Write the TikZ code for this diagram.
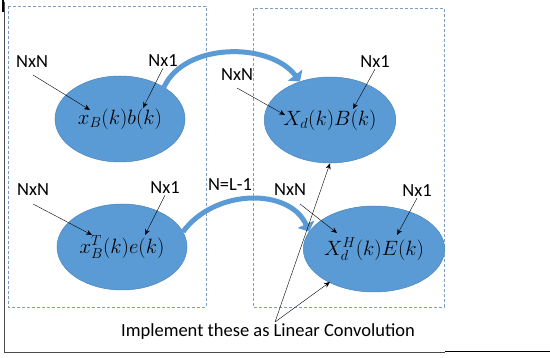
\documentclass[tikz,border=0pt]{standalone}
\usepackage{fontspec}
\setmainfont{Carlito}
\usetikzlibrary{shapes.geometric,arrows.meta}
\definecolor{blobblue}{HTML}{5B9BD5}
\definecolor{blobedge}{HTML}{4A84BC}
\definecolor{boxblue}{HTML}{7C9CC4}
\begin{document}
\begin{tikzpicture}[x=1pt,y=-1pt,line width=.5pt,
    blob/.style={ellipse,fill=blobblue,draw=blobedge,minimum width=130pt,minimum height=86pt,inner sep=0pt,font=\fontsize{21}{24}\selectfont},
    lbl/.style={inner sep=1pt,font=\fontsize{18.5}{21}\selectfont},
    pointer/.style={-{Stealth[length=6pt,width=5pt]},line width=.4pt},
    bigarrow/.style={draw=blobblue,line width=5pt,-{Triangle[length=8pt,width=18pt]}},
    dashbox/.style={draw=boxblue,dash pattern=on 3pt off 2pt,line width=.8pt}]
      \useasboundingbox (0,0) rectangle (550,358);

      % outer frame
      \draw[black!70,line width=.8pt] (4,2) -- (4,352) -- (445,352);
      \draw[line width=1.6pt] (445,351.5) -- (550,351.5);
      \draw[line width=2pt] (3,0) -- (3,12);

      % groups
      \draw[dashbox] (8,6) rectangle (206,307);
      \draw[dashbox] (253,8) rectangle (444,307);

      % ellipses
      \node[blob] (xb) at (120,119) {$x_B(k)b(k)$};
      \node[blob] (XB) at (330,120) {$X_d(k)B(k)$};
      \node[blob] (xe) at (122,247) {$x_B^T(k)e(k)$};
      \node[blob] (XE) at (374,249) {$X_d^H(k)E(k)$};

      % size labels
      \node[lbl] (n1) at (32,62) {NxN};
      \node[lbl] (m1) at (163,61) {Nx1};
      \node[lbl] (n2) at (237,75) {NxN};
      \node[lbl] (m2) at (375,62) {Nx1};
      \node[lbl] (n3) at (33,190) {NxN};
      \node[lbl] (m3) at (165,188) {Nx1};
      \node[lbl] (n4) at (290,190) {NxN};
      \node[lbl] (m4) at (417,191) {Nx1};
      \node[lbl] (ratio) at (230,185) {N=L-1};

      \coordinate (n1e) at (90,110);
      \coordinate (m1e) at (143,108);
      \coordinate (n2e) at (285,115);
      \coordinate (m2e) at (353,109);
      \coordinate (n3e) at (92,235);
      \coordinate (m3e) at (145,235);
      \coordinate (n4e) at (337,233);
      \coordinate (m4e) at (397,235);

      \draw[pointer] (33,75) -- (n1e);
      \draw[pointer] (m1.south) -- (m1e);
      \draw[pointer] (237,88) -- (n2e);
      \draw[pointer] (m2.south) -- (m2e);
      \draw[pointer] (33,204) -- (n3e);
      \draw[pointer] (m3.south) -- (m3e);
      \draw[pointer] (300,204) -- (n4e);
      \draw[pointer] (m4.south) -- (m4e);

      % transfer arrows
      \draw[bigarrow] (xb.36) .. controls (185,42) and (270,42) .. (XB.128);
      \draw[bigarrow] (xe.14) .. controls (215,188) and (290,188) .. (XE.165);

      % note
      \node[lbl] (note) at (268,332) {Implement these as Linear Convolution};
      \coordinate (apex) at (275,322);
      \draw[pointer] (apex) -- (XB.south);
      \draw[pointer] (apex) -- (330,282);
\end{tikzpicture}
\end{document}
